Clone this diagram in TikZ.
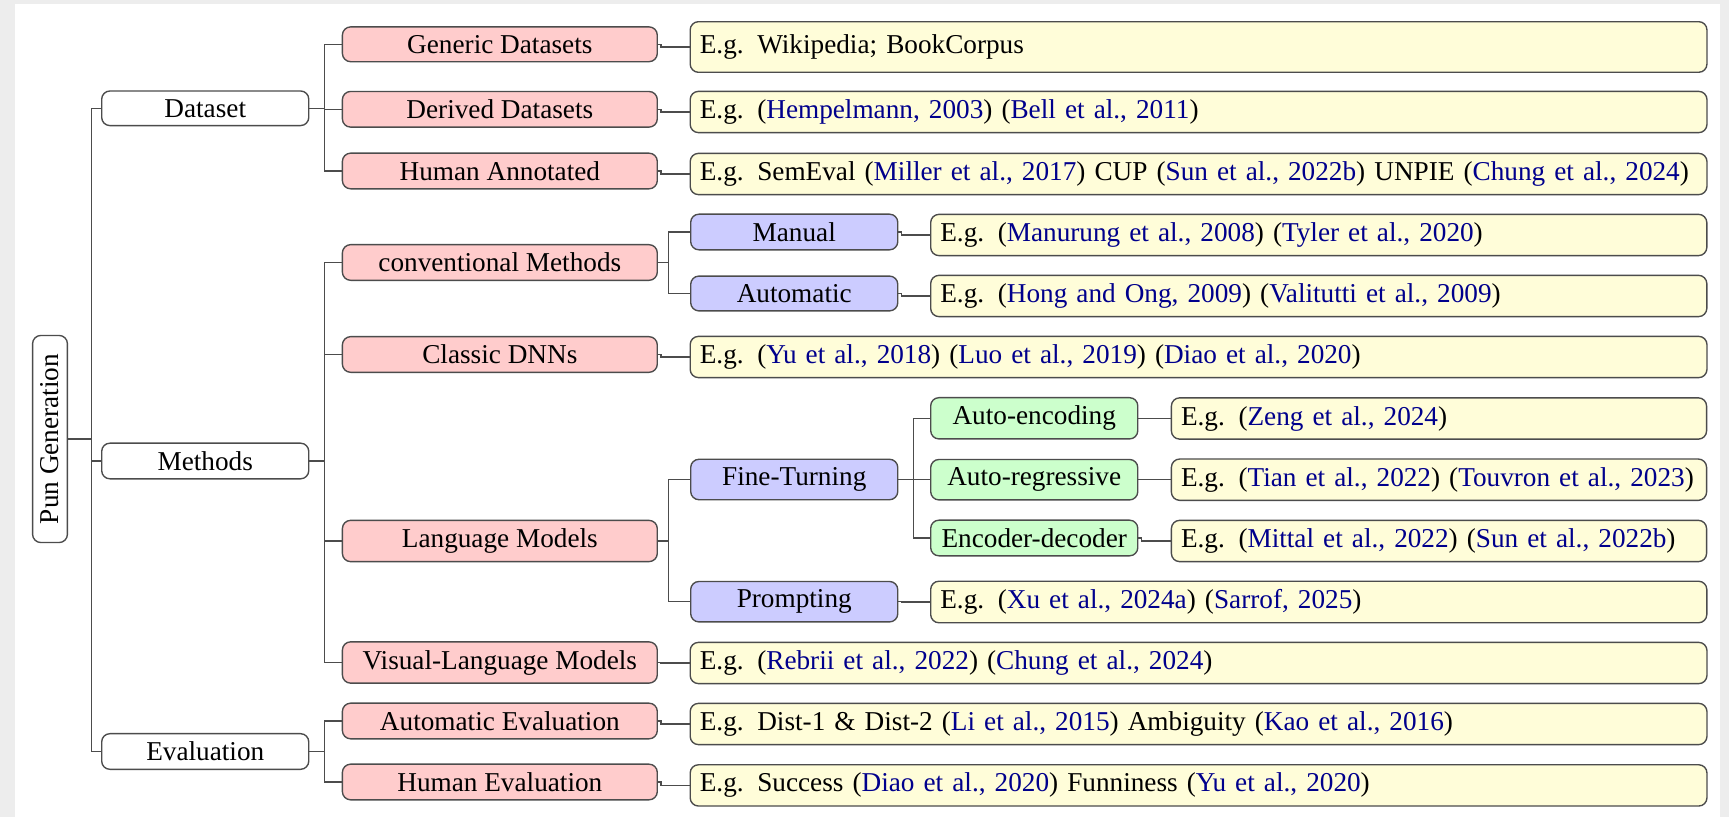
\documentclass[tikz,border=0pt]{standalone}
\usepackage{fontspec}
\setmainfont{Liberation Serif}
\usetikzlibrary{positioning}

\tikzset{
  box/.style={draw=black!70, line width=0.5pt, rounded corners=3pt,
    inner xsep=3.5pt, inner ysep=3pt, anchor=west},
  catbox/.style={box, fill=white, minimum width=75.3pt},
  subbox/.style={box, fill=red!20, minimum width=114.5pt},
  methbox/.style={box, fill=blue!20, minimum width=75.3pt},
  lmbox/.style={box, fill=green!20, minimum width=75.3pt},
  leafbox/.style={box, fill=yellow!15, text width=#1, align=left},
  link/.style={draw=black!70, line width=0.5pt},
}
\newcommand{\refc}[1]{\textcolor{blue!55!black}{#1}}
\newcommand{\eg}[1]{\mbox{E.g. #1}}

\begin{document}
\begin{tikzpicture}[x=0.3636pt, y=-0.3636pt, font=\fontsize{9.9}{12}\selectfont]
    \useasboundingbox (0,0) rectangle (1729,817);
    \fill[black!7] (0,0) rectangle (1729,817);
    \fill[white] (15,4) rectangle (1720,817);

    % root
    \node[box, fill=white, rotate=90, anchor=center, minimum width=75.3pt] (pun) at (50,439) {Pun Generation};

    % first level
    \node[catbox] (dataset) at (101,108.3) {Dataset};
    \node[catbox] (methods) at (101,461) {Methods};
    \node[catbox] (evaluation) at (101,751.5) {Evaluation};

    % second level
    \node[subbox] (generic) at (341.7,44.3) {Generic Datasets};
    \node[subbox] (derived) at (341.7,109.3) {Derived Datasets};
    \node[subbox] (human) at (341.7,171) {Human Annotated};
    \node[subbox] (conv) at (341.7,262.5) {conventional Methods};
    \node[subbox] (classic) at (341.7,354.5) {Classic DNNs};
    \node[subbox] (langm) at (341.7,541) {Language Models};
    \node[subbox] (visual) at (341.7,662.5) {Visual-Language Models};
    \node[subbox] (autoeval) at (341.7,721) {Automatic Evaluation};
    \node[subbox] (humaneval) at (341.7,782) {Human Evaluation};

    % third level
    \node[methbox] (manual) at (690,232) {Manual};
    \node[methbox] (automatic) at (690,293.5) {Automatic};
    \node[methbox] (finetune) at (690,479.5) {Fine-Turning};
    \node[methbox] (prompting) at (690,601.7) {Prompting};

    % fourth level
    \node[lmbox] (autoenc) at (930,418.3) {Auto-encoding};
    \node[lmbox] (autoreg) at (930,479.7) {Auto-regressive};
    \node[lmbox] (encdec) at (930,538) {Encoder-decoder};

    % examples
    \node[leafbox=362.7pt, minimum height=18.4pt] (genex) at (689.5,47) {\eg{Wikipedia; BookCorpus}};
    \node[leafbox=362.7pt] (derex) at (689.5,112) {\eg{(\refc{Hempelmann, 2003}) (\refc{Bell et al., 2011})}};
    \node[leafbox=362.7pt] (humex) at (689.5,174) {\eg{SemEval (\refc{Miller et al., 2017}) CUP (\refc{Sun et al., 2022b}) UNPIE (\refc{Chung et al., 2024})}};
    \node[leafbox=275.2pt] (manex) at (930,235) {\eg{(\refc{Manurung et al., 2008}) (\refc{Tyler et al., 2020})}};
    \node[leafbox=275.2pt] (autex) at (930,296) {\eg{(\refc{Hong and Ong, 2009}) (\refc{Valitutti et al., 2009})}};
    \node[leafbox=362.7pt] (claex) at (689.5,357) {\eg{(\refc{Yu et al., 2018}) (\refc{Luo et al., 2019}) (\refc{Diao et al., 2020})}};
    \node[leafbox=187.6pt] (encex) at (1170.7,418.5) {\eg{(\refc{Zeng et al., 2024})}};
    \node[leafbox=187.6pt] (regex) at (1170.7,479.7) {\eg{(\refc{Tian et al., 2022}) (\refc{Touvron et al., 2023})}};
    \node[leafbox=187.6pt] (edex) at (1170.7,541) {\eg{(\refc{Mittal et al., 2022}) (\refc{Sun et al., 2022b})}};
    \node[leafbox=275.2pt] (proex) at (930,602) {\eg{(\refc{Xu et al., 2024a}) (\refc{Sarrof, 2025})}};
    \node[leafbox=362.7pt] (visex) at (689.5,663) {\eg{(\refc{Rebrii et al., 2022}) (\refc{Chung et al., 2024})}};
    \node[leafbox=362.7pt] (aevex) at (689.5,724) {\eg{Dist-1 \& Dist-2 (\refc{Li et al., 2015}) Ambiguity (\refc{Kao et al., 2016})}};
    \node[leafbox=362.7pt] (hevex) at (689.5,785.4) {\eg{Success (\refc{Diao et al., 2020}) Funniness (\refc{Yu et al., 2020})}};

    % forks
    \foreach \c in {dataset,methods,evaluation}
      \draw[link] (pun.south) -- ++(23.4,0) |- (\c.west);
    \foreach \c in {generic,derived,human}
      \draw[link] (dataset.east) -- ++(15,0) |- (\c.west);
    \foreach \c in {conv,classic,langm,visual}
      \draw[link] (methods.east) -- ++(15,0) |- (\c.west);
    \foreach \c in {autoeval,humaneval}
      \draw[link] (evaluation.east) -- ++(15,0) |- (\c.west);
    \foreach \c in {manual,automatic}
      \draw[link] (conv.east) -- ++(10.3,0) |- (\c.west);
    \foreach \c in {finetune,prompting}
      \draw[link] (langm.east) -- ++(10.3,0) |- (\c.west);
    \foreach \c in {autoenc,autoreg,encdec}
      \draw[link] (finetune.east) -- ++(15.3,0) |- (\c.west);

    % leaves
    \foreach \p/\l in {generic/genex,derived/derex,human/humex,manual/manex,automatic/autex,
        classic/claex,autoenc/encex,autoreg/regex,encdec/edex,prompting/proex,
        visual/visex,autoeval/aevex,humaneval/hevex}
      \draw[link] (\p.east) -- ++(3,0) |- (\l.west);
\end{tikzpicture}
\end{document}
